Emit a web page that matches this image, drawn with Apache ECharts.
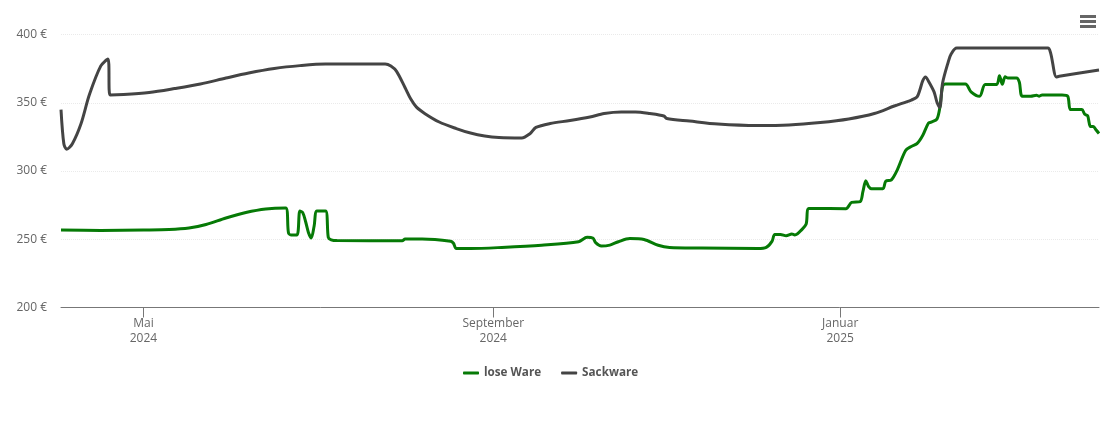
<!DOCTYPE html>
<html>
<head>
<meta charset="utf-8">
<style>
html,body{margin:0;padding:0;background:#fff;}
#main{width:1110px;height:422px;}
</style>
</head>
<body>
<div id="main"></div>
<script src="https://cdn.jsdelivr.net/npm/echarts@6/dist/echarts.min.js"></script>
<script>
var tickDates = ['2024-05-01','2024-09-01','2025-01-01'];
var tickLabels = ['Mai\n2024','September\n2024','Januar\n2025'];
var yLabels = [200,250,300,350,400];

var loseDates = ['2024-04-02','2024-04-16','2024-05-01','2024-05-10','2024-05-17','2024-05-23','2024-05-30','2024-06-06','2024-06-13','2024-06-20','2024-06-21','2024-06-22','2024-06-24','2024-06-25','2024-06-26','2024-06-27','2024-06-28','2024-06-29','2024-06-30','2024-07-01','2024-07-04','2024-07-05','2024-07-06','2024-07-08','2024-07-31','2024-08-01','2024-08-07','2024-08-17','2024-08-18','2024-08-19','2024-08-24','2024-09-04','2024-09-18','2024-10-01','2024-10-04','2024-10-06','2024-10-07','2024-10-09','2024-10-12','2024-10-15','2024-10-19','2024-10-24','2024-10-29','2024-11-02','2024-11-13','2024-12-03','2024-12-06','2024-12-08','2024-12-09','2024-12-11','2024-12-13','2024-12-15','2024-12-16','2024-12-17','2024-12-18','2024-12-20','2024-12-21','2025-01-03','2025-01-05','2025-01-08','2025-01-09','2025-01-10','2025-01-11','2025-01-12','2025-01-16','2025-01-17','2025-01-19','2025-01-21','2025-01-24','2025-01-26','2025-01-28','2025-01-30','2025-02-01','2025-02-02','2025-02-04','2025-02-05','2025-02-06','2025-02-07','2025-02-14','2025-02-16','2025-02-19','2025-02-21','2025-02-25','2025-02-26','2025-02-27','2025-02-28','2025-03-01','2025-03-04','2025-03-05','2025-03-06','2025-03-09','2025-03-11','2025-03-12','2025-03-13','2025-03-20','2025-03-22','2025-03-23','2025-03-26','2025-03-27','2025-03-28','2025-03-29','2025-03-30','2025-03-31','2025-04-01','2025-04-02'];
var loseValues = [256.8,256.5,256.8,257.1,258.2,260.8,265.6,269.6,272.2,272.9,254.6,253.1,253.1,270.7,269.5,263,255,250.9,259.5,270.7,270.7,251.3,249.6,249,248.9,250.2,250.2,248.5,247.1,243.2,243.2,244,245.6,248.2,251.4,250.9,247.5,245,245.7,248.2,250.5,249.8,245.6,244,243.6,243.2,244,248.4,253.5,253.5,252.5,253.8,253.2,254,256,261,272.5,272.4,277,277.5,285,292.9,288.5,287,287,292.5,293.5,300.5,315,318,320,326,335,335.8,338,346,362,363.7,363.7,358,354.7,363.3,363.3,369.8,363.5,369,368.2,368.2,365,354.8,354.8,355.5,354.8,355.7,355.7,354.8,345,345,345,341.5,340.5,332.6,332.6,330,327.5];

var sackDates = ['2024-04-02','2024-04-03','2024-04-04','2024-04-06','2024-04-09','2024-04-12','2024-04-16','2024-04-18 12:00','2024-04-19 06:00','2024-04-24','2024-05-03','2024-05-12','2024-05-21','2024-05-30','2024-06-07','2024-06-16','2024-06-25','2024-07-04','2024-07-13','2024-07-25','2024-07-27','2024-07-29','2024-08-01','2024-08-03','2024-08-05','2024-08-08','2024-08-13','2024-08-19','2024-08-24','2024-08-29','2024-09-03','2024-09-11','2024-09-14','2024-09-16','2024-09-21','2024-09-28','2024-10-05','2024-10-10','2024-10-16','2024-10-21','2024-10-26','2024-10-31','2024-11-01','2024-11-09','2024-11-19','2024-12-03','2024-12-14','2024-12-25','2025-01-04','2025-01-13','2025-01-20','2025-01-26','2025-01-28','2025-01-29','2025-01-30','2025-01-31','2025-02-01','2025-02-03','2025-02-04','2025-02-05','2025-02-06','2025-02-08','2025-02-09','2025-02-11','2025-03-15','2025-03-16','2025-03-18','2025-03-19','2025-04-02'];
var sackValues = [345,320,316,320,334.4,356,377,382,355.7,356,357.5,360.4,363.7,368.1,371.8,375.1,377.2,378.4,378.4,378.4,376.9,373,361,352.7,346.8,342,335.9,331.1,327.8,325.6,324.5,324.2,327.5,331.9,334.8,337,339.6,342.1,343.2,343.2,342.1,340.3,338.5,336.6,334.4,333.3,333.7,335.5,338.1,342.1,347.6,352,354.2,359.3,366,368.9,366,358,350.6,346.5,364.5,380,385.7,390.1,390.1,386.4,368.9,369.4,374];

function toTime(d){
	return +echarts.time.parse(d);
}

function pairs(dates, values){
	var out = [];
	for(var i=0;i<dates.length;i++){
		out.push([toTime(dates[i]), values[i]]);
	}
	return out;
}

var tickTimes = tickDates.map(toTime);

var myChart = echarts.init(document.getElementById('main'));
var font = '"Open Sans", sans-serif';
var option = {
	animation: false,
	backgroundColor: '#fff',
	textStyle: {fontFamily: font},
	grid: {left: 61, right: 11, top: 34.5, bottom: 114.5},
	toolbox: {
		right: -1,
		top: 0,
		itemSize: 16,
		feature: {
			myMenu: {
				show: true,
				title: 'Menü',
				icon: 'path://M0 0H16V3H0ZM0 5H16V8H0ZM0 10H16V13H0Z',
				onclick: function(){}
			}
		},
		iconStyle: {color: '#666', borderWidth: 0}
	},
	legend: {
		top: 362,
		left: 458,
		itemWidth: 16,
		itemHeight: 3,
		itemGap: 20,
		icon: 'roundRect',
		textStyle: {fontFamily: font, fontSize: 11.7, fontWeight: 'bold', color: '#555'},
		data: ['lose Ware','Sackware']
	},
	// Wertachse mit Zeitstempeln, die Zeitachse kommt mit customValues nicht klar
	xAxis: {
		type: 'value',
		min: toTime('2024-04-02'),
		max: toTime('2025-04-02'),
		axisLine: {onZero: false, lineStyle: {color: '#777', width: 1}},
		axisTick: {show: true, length: 10, lineStyle: {color: '#777'}, customValues: tickTimes},
		splitLine: {show: false},
		axisLabel: {
			customValues: tickTimes,
			color: '#666',
			fontSize: 12,
			lineHeight: 15,
			margin: 9,
			hideOverlap: false,
			formatter: function(val){
				return tickLabels[tickTimes.indexOf(+val)] || '';
			}
		}
	},
	yAxis: {
		type: 'value',
		min: yLabels[0],
		max: yLabels[yLabels.length-1],
		interval: 50,
		axisLine: {show: false},
		axisTick: {show: false},
		splitLine: {lineStyle: {color: '#eaeaea', type: 'dotted', width: 1}},
		axisLabel: {color: '#666', fontSize: 12, margin: 14, padding: [0,0,1,0], formatter: '{value} €'}
	},
	series: [{
		name: 'lose Ware',
		type: 'line',
		data: pairs(loseDates, loseValues),
		showSymbol: false,
		smooth: 0.3,
		lineStyle: {width: 3, color: '#067a06'},
		itemStyle: {color: '#067a06'},
		z: 2
	},{
		name: 'Sackware',
		type: 'line',
		data: pairs(sackDates, sackValues),
		showSymbol: false,
		smooth: 0.3,
		lineStyle: {width: 3, color: '#444'},
		itemStyle: {color: '#444'},
		z: 3
	}]
};
myChart.setOption(option);
</script>
</body>
</html>
